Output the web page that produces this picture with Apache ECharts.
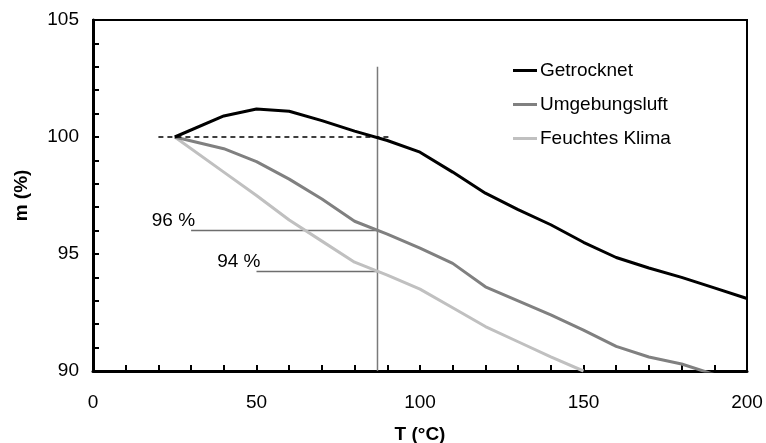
<!DOCTYPE html>
<html>
<head>
<meta charset="utf-8">
<script src="https://cdn.jsdelivr.net/npm/echarts@6/dist/echarts.min.js"></script>
<style>
  html, body { margin: 0; padding: 0; background: #fff; }
  #chart { width: 766px; height: 443px; }
</style>
</head>
<body>
<div id="chart"></div>
<script>
// Mass (%) versus temperature for three conditioning states
const tempsDry = [25, 40, 50, 60, 70, 80, 90, 100, 110, 120, 130, 140, 150, 160, 170, 180, 190, 200];
const massDry  = [100, 100.9, 101.2, 101.1, 100.7, 100.25, 99.85, 99.35, 98.5, 97.6, 96.9, 96.25, 95.5, 94.85, 94.4, 94.0, 93.55, 93.1];

const tempsAmbient = [25, 40, 50, 60, 70, 80, 90, 100, 110, 120, 130, 140, 150, 160, 170, 180, 190];
const massAmbient  = [100, 99.5, 98.95, 98.2, 97.35, 96.4, 95.85, 95.25, 94.6, 93.6, 93.0, 92.4, 91.75, 91.05, 90.6, 90.3, 89.85];

const tempsHumid = [25, 40, 50, 60, 70, 80, 90, 100, 110, 120, 130, 140, 150];
const massHumid  = [100, 98.5, 97.5, 96.45, 95.55, 94.65, 94.1, 93.5, 92.7, 91.9, 91.25, 90.6, 90.0];

const seriesNames = ['Getrocknet', 'Umgebungsluft', 'Feuchtes Klima'];

// Helper lines: 100 % reference, read-off temperature, read-off levels
const refLevel = 100;
const refRange = [20, 91];
const readTemp = 87;
const readTempRange = [90, 103];
const readLevels = [96, 94.25];
const readLevelStarts = [30, 50];

const xTicks = { min: 0, max: 200, step: 50 };
const yTicks = { min: 90, max: 105, step: 5 };

const pairs = (xs, ys) => xs.map((x, i) => [x, ys[i]]);

const FONT = 'Liberation Sans, Arial, sans-serif';

const chart = echarts.init(document.getElementById('chart'));

const series = [
  {
    name: seriesNames[0], type: 'line', data: pairs(tempsDry, massDry),
    showSymbol: false, symbol: 'none', color: '#000000',
    lineStyle: { width: 3, color: '#000000' }, z: 5
  },
  {
    name: seriesNames[1], type: 'line', data: pairs(tempsAmbient, massAmbient),
    showSymbol: false, symbol: 'none', color: '#808080',
    lineStyle: { width: 3, color: '#808080' }, z: 4
  },
  {
    name: seriesNames[2], type: 'line', data: pairs(tempsHumid, massHumid),
    showSymbol: false, symbol: 'none', color: '#c0c0c0',
    lineStyle: { width: 3, color: '#c0c0c0' }, z: 3
  },
  {
    type: 'line', silent: true, symbol: 'none', z: 6,
    data: refRange.map(t => [t, refLevel]),
    lineStyle: { width: 1.5, color: '#000000', type: [5, 4] }
  },
  {
    type: 'line', silent: true, symbol: 'none', z: 2,
    data: readTempRange.map(v => [readTemp, v]),
    lineStyle: { width: 1.5, color: '#7a7a7a' }
  }
];

readLevels.forEach((lvl, i) => {
  series.push({
    type: 'line', silent: true, z: 2,
    symbol: 'circle', symbolSize: 0, showSymbol: true,
    data: [
      { value: [readLevelStarts[i], lvl],
        label: {
          show: true, position: 'left', distance: 0, offset: [4, -10],
          formatter: p => Math.round(p.value[1]) + ' %',
          fontFamily: FONT, fontSize: 19, color: '#000'
        } },
      { value: [readTemp, lvl] }
    ],
    lineStyle: { width: 1.5, color: '#6e6e6e' }
  });
});

chart.setOption({
  animation: false,
  backgroundColor: '#ffffff',
  grid: {
    left: 93, right: 19, top: 20, bottom: 72,
    containLabel: false, outerBoundsMode: 'none',
    show: true, borderColor: '#000', borderWidth: 2, backgroundColor: 'transparent'
  },
  legend: {
    data: seriesNames,
    orient: 'vertical',
    left: 508, top: 55,
    icon: 'rect', itemWidth: 24, itemHeight: 3, itemGap: 13,
    textStyle: { fontFamily: FONT, fontSize: 19, color: '#000', lineHeight: 21, padding: [0, 0, 0, -2] }
  },
  xAxis: {
    type: 'value', min: xTicks.min, max: xTicks.max, interval: xTicks.step,
    name: 'T (°C)', nameLocation: 'middle', nameGap: 54,
    nameTextStyle: { fontFamily: FONT, fontSize: 19, fontWeight: 'bold', color: '#000' },
    axisLine: { show: true, lineStyle: { color: '#000', width: 3 } },
    axisTick: { show: true, inside: true, length: 6, lineStyle: { color: '#000', width: 2 } },
    minorTick: { show: true, splitNumber: 5, length: 6, lineStyle: { color: '#000', width: 2 } },
    splitLine: { show: false },
    axisLabel: { fontFamily: FONT, fontSize: 19, color: '#000', margin: 22 }
  },
  yAxis: {
    type: 'value', min: yTicks.min, max: yTicks.max, interval: yTicks.step,
    name: 'm (%)', nameLocation: 'middle', nameGap: 62,
    nameTextStyle: { fontFamily: FONT, fontSize: 19, fontWeight: 'bold', color: '#000' },
    axisLine: { show: true, lineStyle: { color: '#000', width: 3 } },
    axisTick: { show: true, inside: true, length: 6, lineStyle: { color: '#000', width: 2 } },
    minorTick: { show: true, splitNumber: 5, length: 6, lineStyle: { color: '#000', width: 2 } },
    splitLine: { show: false },
    axisLabel: { fontFamily: FONT, fontSize: 19, color: '#000', margin: 14 }
  },
  series: series
});
</script>
</body>
</html>
